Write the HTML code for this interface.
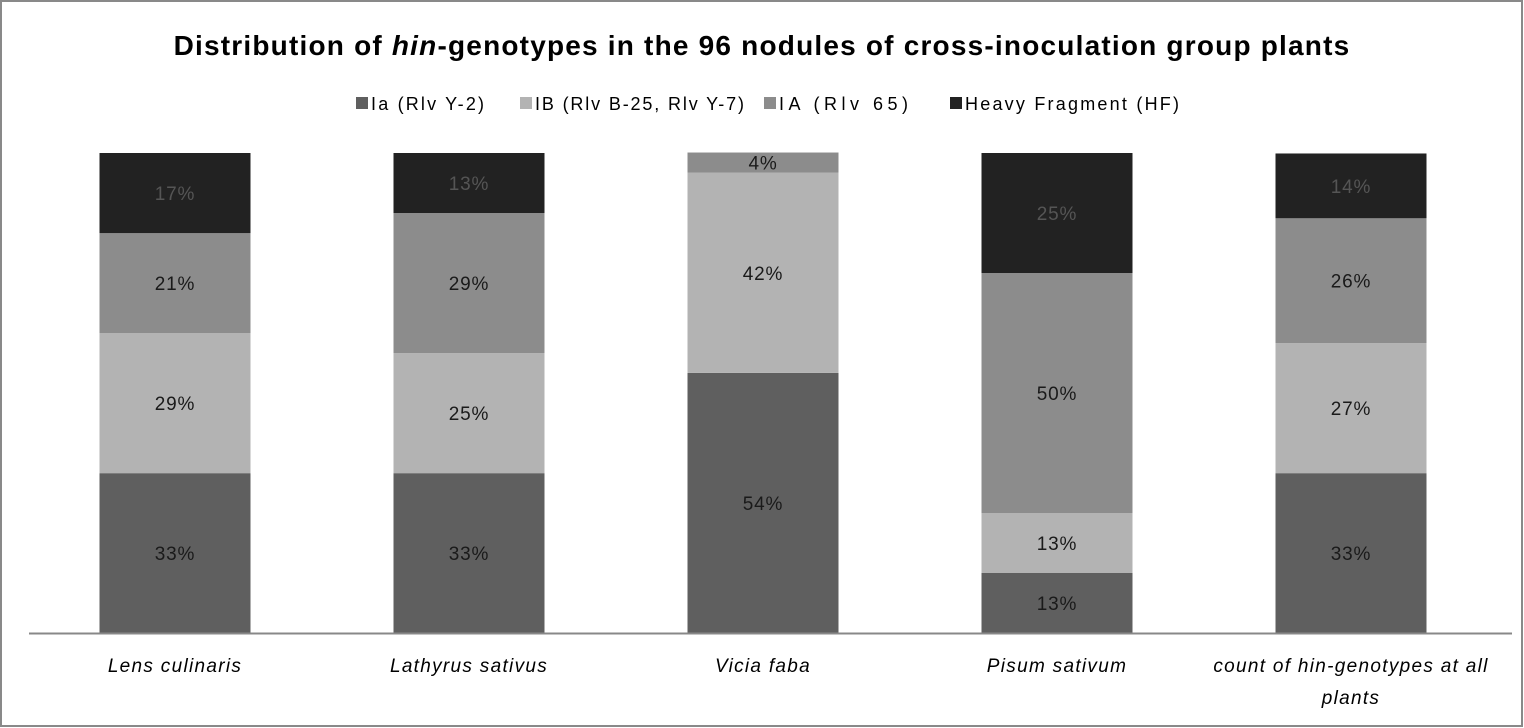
<!DOCTYPE html>
<html><head><meta charset="utf-8"><style>
body{margin:0;background:#fff}
svg{display:block;font-family:"Liberation Sans",sans-serif}
</style></head><body>
<svg id="c" width="1524" height="728">
<rect x="1" y="1" width="1521" height="725" fill="#fff" stroke="#898989" stroke-width="2"/>
<text x="762" y="55" text-anchor="middle" font-size="28" font-weight="bold" letter-spacing="1.2" fill="#000">Distribution of <tspan font-style="italic">hin</tspan>-genotypes in the 96 nodules of cross-inoculation group plants</text>
<g id="legend"></g>
<g id="bars"></g>
<line x1="29" y1="633.5" x2="1512" y2="633.5" stroke="#888" stroke-width="2"/>
<g id="xl"></g>
</svg>
<script>
const categories=[["Lens culinaris"],["Lathyrus sativus"],["Vicia faba"],["Pisum sativum"],["count of hin-genotypes at all","plants"]];
const seriesNames=["Ia (Rlv Y-2)","IB (Rlv B-25, Rlv Y-7)","IA (Rlv 65)","Heavy Fragment (HF)"];
const seriesIa=[33.3,33.3,54.2,12.5,33.3];
const seriesIB=[29.2,25.0,41.7,12.5,27.1];
const seriesIA=[20.8,29.2,4.2,50.0,26.0];
const seriesHF=[16.7,12.5,0,25.0,13.5];
const colors=["#5f5f5f","#b3b3b3","#8c8c8c","#222222"];
const NS="http://www.w3.org/2000/svg";
const y0=633,ph=480;
const yS=v=>v/100*ph;
const xC=i=>175+i*294;
const bw=151;
function mk(t,a,p){const e=document.createElementNS(NS,t);for(const k in a)e.setAttribute(k,a[k]);p.appendChild(e);return e;}
const series=[seriesIa,seriesIB,seriesIA,seriesHF];
const bars=document.getElementById('bars');
categories.forEach((c,i)=>{
  let base=y0;
  series.forEach((s,k)=>{
    const h=yS(s[i]);
    if(h<=0)return;
    const r=mk('rect',{x:xC(i)-bw/2,y:base-h,width:bw,height:h,fill:colors[k]},bars);
    
    
    const t=mk('text',{x:xC(i),y:base-h/2+7,'text-anchor':'middle','font-size':19,'letter-spacing':'0.8',fill:k==3?'#555':'#1a1a1a'},bars);
    t.textContent=Math.round(s[i])+'%';
    
    
    base-=h;
  });
  const xl=document.getElementById('xl');
  c.forEach((line,j)=>{
    const t=mk('text',{x:xC(i),y:672+j*32,'text-anchor':'middle','font-size':19,'font-style':'italic','letter-spacing':'1.3',fill:'#000'},xl);
    t.textContent=line;
    
    
  });
});
const lg=document.getElementById('legend');
const lx=[356,520,764,950];
const lw=[113,209,129,214];
seriesNames.forEach((n,k)=>{
  const r=mk('rect',{x:lx[k],y:97,width:12,height:12,fill:colors[k]},lg);
  
  
  const t=mk('text',{x:lx[k]+15,y:110,'font-size':18,fill:'#000',textLength:lw[k],lengthAdjust:'spacing'},lg);
  t.textContent=n;
  
  
});
</script>
</body></html>
